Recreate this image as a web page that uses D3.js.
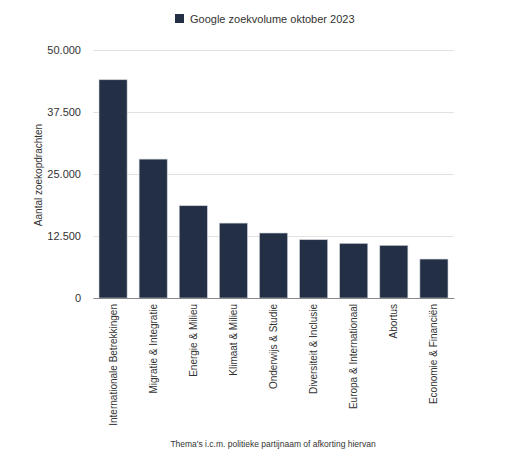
<!DOCTYPE html>
<html>
<head>
<meta charset="utf-8">
<script src="https://cdn.jsdelivr.net/npm/d3@7"></script>
<style>
  body { margin: 0; background: #fff; }
  text { font-family: "Liberation Sans", Arial, sans-serif; fill: #333; }
</style>
</head>
<body>
<svg id="chart" width="520" height="465"></svg>
<script>
const categories = [
  'Internationale Betrekkingen',
  'Migratie & Integratie',
  'Energie & Milieu',
  'Klimaat & Milieu',
  'Onderwijs & Studie',
  'Diversiteit & Inclusie',
  'Europa & Internationaal',
  'Abortus',
  'Economie & Financiën',
];
const values = [44000, 28000, 18600, 15100, 13100, 11750, 11000, 10600, 7850];
const yTicks = [0, 12500, 25000, 37500, 50000];
const seriesName = 'Google zoekvolume oktober 2023';

const svg = d3.select('#chart');
const m = { top: 50, right: 66, bottom: 167, left: 93 };
const w = 520 - m.left - m.right;
const h = 465 - m.top - m.bottom;
const g = svg.append('g').attr('transform', `translate(${m.left},${m.top})`);

const x = d3.scaleBand().domain(categories).range([0, w]).paddingInner(0.3).paddingOuter(0.15);
const y = d3.scaleLinear().domain([0, 50000]).range([h, 0]);
const fmt = (v) => d3.format(',')(v).replace(/,/g, '.');

// grid
g.append('g')
  .call(d3.axisLeft(y).tickValues(yTicks).tickSize(-w).tickFormat(''))
  .call((a) => a.select('.domain').remove())
  .call((a) => a.selectAll('.tick line').attr('stroke', '#e2e2e2'));

// y labels
g.append('g')
  .call(d3.axisLeft(y).tickValues(yTicks).tickSize(0).tickPadding(12).tickFormat(fmt))
  .call((a) => a.select('.domain').remove())
  .call((a) => a.selectAll('text').attr('font-size', 11).attr('fill', '#333'));

// bars
g.selectAll('rect.bar')
  .data(values)
  .join('rect')
  .attr('class', 'bar')
  .attr('x', (d, i) => x(categories[i]))
  .attr('y', (d) => y(d))
  .attr('width', x.bandwidth())
  .attr('height', (d) => h - y(d))
  .attr('fill', '#232f45')
  .attr('stroke', '#c8ccd2')
  .attr('stroke-width', 0.6);

// x axis
g.append('g')
  .attr('transform', `translate(0,${h})`)
  .call(d3.axisBottom(x).tickSize(0).tickPadding(6))
  .call((a) => a.select('.domain').attr('stroke', '#8a8a8a').attr('stroke-width', 1.2))
  .call((a) => a.selectAll('text')
    .attr('font-size', 10)
    .attr('fill', '#222')
    .attr('transform', 'rotate(-90)')
    .attr('text-anchor', 'end')
    .attr('x', -6)
    .attr('y', 0)
    .attr('dy', '0.35em'));

// axis titles
svg.append('text')
  .attr('transform', 'translate(42,175) rotate(-90)')
  .attr('text-anchor', 'middle')
  .attr('font-size', 10)
  .text('Aantal zoekopdrachten');

svg.append('text')
  .attr('x', 273)
  .attr('y', 447)
  .attr('text-anchor', 'middle')
  .attr('font-size', 8.5)
  .attr('fill', '#444')
  .text("Thema's i.c.m. politieke partijnaam of afkorting hiervan");

// legend
const lg = svg.append('g').attr('transform', 'translate(175,14)');
lg.append('rect').attr('width', 9).attr('height', 9).attr('fill', '#232f45');
lg.append('text').attr('x', 15).attr('y', 8.8).attr('font-size', 11).text(seriesName);
</script>
</body>
</html>
